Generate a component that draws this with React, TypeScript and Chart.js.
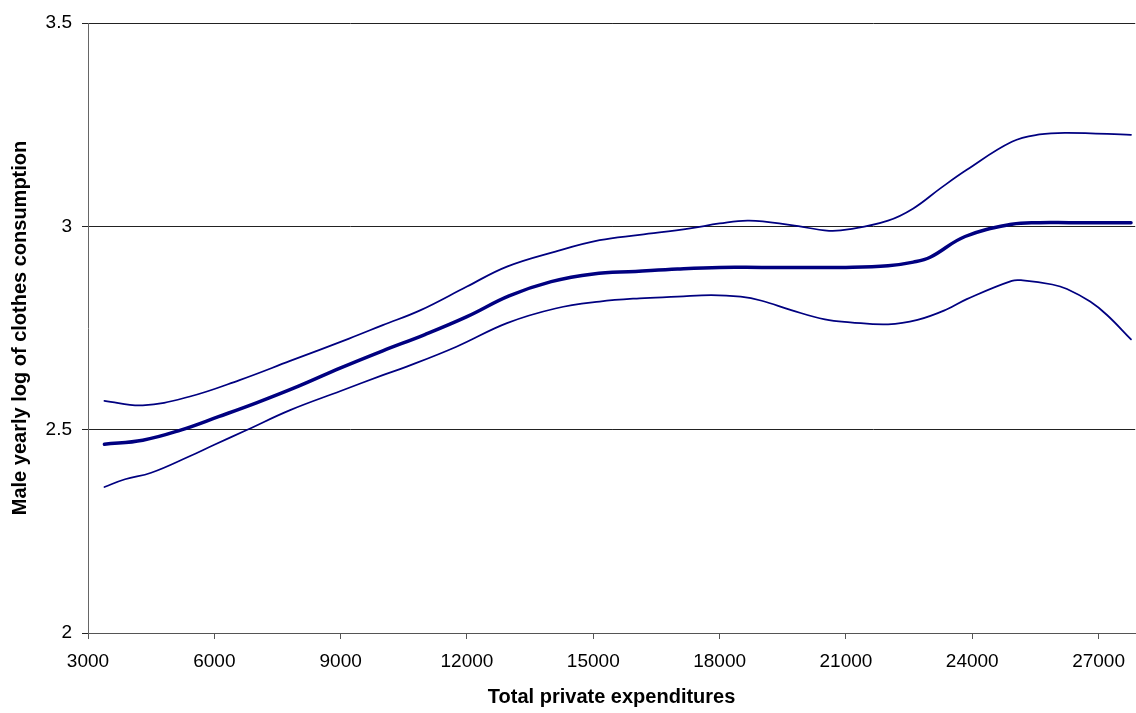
import { useEffect, useRef } from "react";
import { Chart, registerables } from "chart.js";

Chart.register(...registerables);

// Fitted curve (thick) and its upper / lower bands
const xMid = [3390, 4300, 5200, 6100, 7000, 8000, 9000, 10000, 11000, 12000, 13000, 14000, 15000, 16000, 17000, 18000, 19000, 20000, 21000, 22000, 22600, 23000, 23830, 24940, 25600, 26300, 27000, 27770];
const yMid = [2.464, 2.474, 2.499, 2.532, 2.566, 2.607, 2.652, 2.694, 2.734, 2.778, 2.829, 2.864, 2.883, 2.889, 2.895, 2.899, 2.899, 2.899, 2.899, 2.903, 2.912, 2.924, 2.975, 3.005, 3.009, 3.009, 3.009, 3.009];

const xUpper = [3390, 4300, 5400, 6600, 7800, 9200, 10000, 10900, 12000, 12950, 14100, 15150, 16100, 17300, 18000, 18700, 19700, 20600, 21100, 22000, 22600, 23250, 23870, 24940, 25600, 26250, 27770];
const yUpper = [2.571, 2.560, 2.581, 2.622, 2.669, 2.724, 2.757, 2.794, 2.852, 2.901, 2.938, 2.966, 2.979, 2.995, 3.007, 3.014, 3.003, 2.989, 2.993, 3.014, 3.044, 3.094, 3.139, 3.208, 3.226, 3.230, 3.225];

const xLower = [3390, 3880, 4500, 5400, 6000, 6770, 7800, 9000, 10000, 10570, 11750, 12950, 14100, 15150, 16100, 17000, 17800, 18500, 19000, 19700, 20500, 21100, 22000, 22700, 23400, 23870, 24940, 25200, 25900, 26250, 26800, 27200, 27770];
const yLower = [2.359, 2.378, 2.394, 2.434, 2.463, 2.499, 2.548, 2.595, 2.634, 2.655, 2.704, 2.762, 2.798, 2.815, 2.823, 2.827, 2.831, 2.827, 2.817, 2.794, 2.771, 2.764, 2.759, 2.770, 2.796, 2.821, 2.866, 2.867, 2.857, 2.846, 2.815, 2.782, 2.722];

const xTickValues = [3000, 6000, 9000, 12000, 15000, 18000, 21000, 24000, 27000];
const yTickValues = [2, 2.5, 3, 3.5];

const X_MIN = 3000;
const X_MAX = 27870;
const Y_MIN = 2;
const Y_MAX = 3.5;

const FONT = "'Liberation Sans', Arial, sans-serif";
const NAVY = "#000080";

const toPoints = (xs: number[], ys: number[]) => xs.map((x, i) => ({ x, y: ys[i] }));

export default function App() {
  const ref = useRef<HTMLCanvasElement>(null);

  useEffect(() => {
    document.body.style.margin = "0";
    const chart = new Chart(ref.current!, {
      type: "line",
      data: {
        datasets: [
          { label: "upper", data: toPoints(xUpper, yUpper), borderColor: NAVY, borderWidth: 1.75 },
          { label: "fit", data: toPoints(xMid, yMid), borderColor: NAVY, borderWidth: 3.5 },
          { label: "lower", data: toPoints(xLower, yLower), borderColor: NAVY, borderWidth: 1.75 },
        ],
      },
      options: {
        animation: false,
        responsive: false,
        layout: { padding: { top: 23, right: 0, left: 0, bottom: 0 } },
        plugins: { legend: { display: false }, tooltip: { enabled: false } },
        elements: {
          point: { radius: 0 },
          line: { tension: 0.4, fill: false, borderCapStyle: "round", borderJoinStyle: "round" },
        },
        scales: {
          x: {
            type: "linear",
            min: X_MIN,
            max: X_MAX,
            afterBuildTicks: (s: any) => {
              s.ticks = xTickValues.map((value) => ({ value }));
            },
            afterFit: (s: any) => {
              s.height = 80;
            },
            ticks: {
              autoSkip: false,
              maxRotation: 0,
              padding: 11,
              color: "#000",
              font: { family: FONT, size: 19 },
              callback: (v: any) => String(v),
            },
            grid: { drawOnChartArea: false, drawTicks: true, tickLength: 6, color: "#555" },
            border: { color: "#555", width: 1 },
            title: {
              display: true,
              text: "Total private expenditures",
              color: "#000",
              font: { family: FONT, size: 20, weight: "bold" },
              padding: { top: 0, bottom: 4 },
            },
          },
          y: {
            type: "linear",
            min: Y_MIN,
            max: Y_MAX,
            afterBuildTicks: (s: any) => {
              s.ticks = yTickValues.map((value) => ({ value }));
            },
            afterFit: (s: any) => {
              s.width = 88;
            },
            ticks: {
              padding: 10,
              color: "#000",
              font: { family: FONT, size: 19 },
              callback: (v: any) => String(v),
            },
            grid: { drawTicks: true, tickLength: 6, color: "#222", lineWidth: 1 },
            border: { color: "#666", width: 1 },
            title: {
              display: true,
              text: "Male yearly log of clothes consumption",
              color: "#000",
              font: { family: FONT, size: 20, weight: "bold" },
              padding: { top: 8, bottom: 0 },
            },
          },
        },
      },
    });
    return () => chart.destroy();
  }, []);

  return (
    <div style={{ width: 1136, height: 713, background: "#fff" }}>
      <canvas ref={ref} width={1136} height={713} style={{ display: "block" }} />
    </div>
  );
}
